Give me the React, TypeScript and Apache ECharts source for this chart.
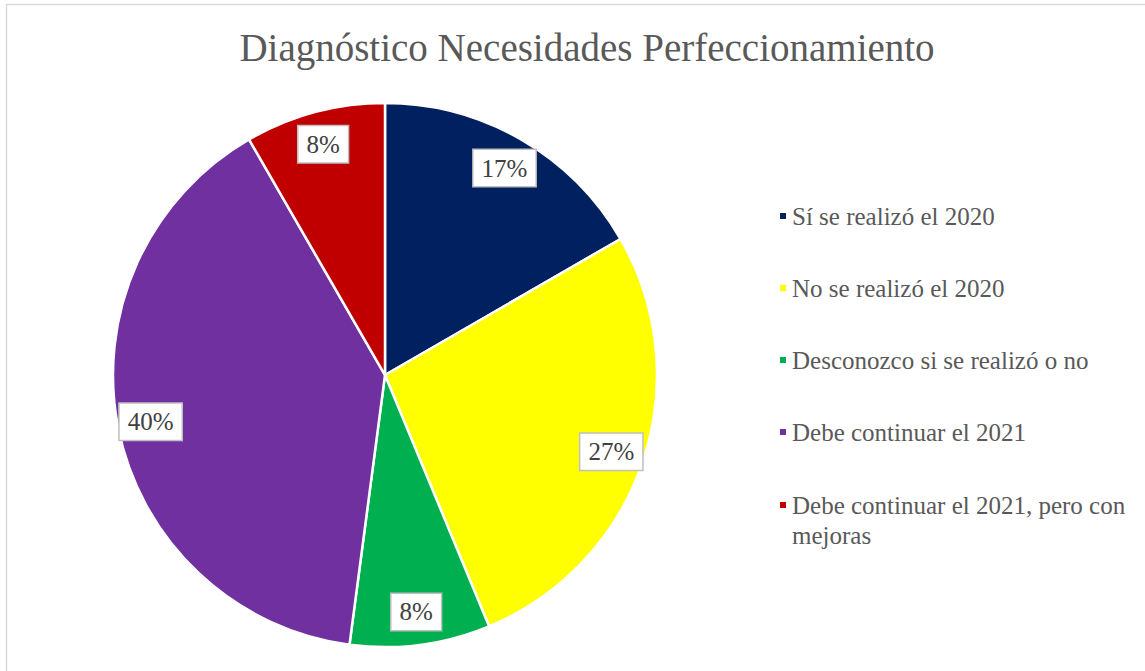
import React, { useEffect, useRef } from 'react';
import * as echarts from 'echarts';

const titleText = 'Diagnóstico Necesidades Perfeccionamiento';
const categories = [
  'Sí se realizó el 2020',
  'No se realizó el 2020',
  'Desconozco si se realizó o no',
  'Debe continuar el 2021',
  'Debe continuar el 2021, pero con mejoras',
];
const counts = [8, 13, 4, 19, 4];
const colors = ['#002060', '#FFFF00', '#00B050', '#7030A0', '#C00000'];

export default function App() {
  const ref = useRef<HTMLDivElement>(null);
  useEffect(() => {
    document.body.style.margin = '0';
    const chart = echarts.init(ref.current!, null, { renderer: 'svg' });
    const font = "'Liberation Serif', serif";
    const data = categories.map((name, i) => ({ name, value: counts[i], itemStyle: { color: colors[i] } }));
    const labelData = categories.map((name, i) => ({ name, value: counts[i], itemStyle: { color: 'rgba(0,0,0,0)' } }));
    const legendText = { fontFamily: font, fontSize: 25, lineHeight: 30, color: '#595959' };
    chart.setOption({
      animation: false,
      backgroundColor: '#ffffff',
      title: {
        text: titleText,
        left: 582,
        textAlign: 'center',
        top: 23,
        textStyle: { fontFamily: font, fontSize: 39, fontWeight: 'normal', color: '#595959' },
      },
      legend: [
        {
          data: categories.slice(0, 4),
          orient: 'vertical',
          left: 778,
          top: 201,
          padding: 0,
          itemWidth: 8,
          itemHeight: 8,
          itemGap: 42,
          icon: 'rect',
          selectedMode: false,
          textStyle: legendText,
        },
        {
          data: [categories[4]],
          orient: 'vertical',
          left: 778,
          top: 460,
          padding: 0,
          itemWidth: 8,
          itemHeight: 8,
          icon: 'rect',
          selectedMode: false,
          formatter: (name: string) => '\n' + name,
          textStyle: { ...legendText, width: 350, overflow: 'break' },
        },
      ],
      graphic: [
        {
          type: 'rect',
          shape: { x: 6.5, y: 4.5, width: 1200, height: 700 },
          style: { fill: 'none', stroke: '#d9d9d9', lineWidth: 1.5 },
          silent: true,
        },
      ],
      series: [
        {
          type: 'pie',
          center: [385, 375],
          radius: 272,
          startAngle: 90,
          clockwise: true,
          data,
          label: { show: false },
          labelLine: { show: false },
          itemStyle: { borderColor: '#ffffff', borderWidth: 2.5 },
          emphasis: { disabled: true },
        },
        {
          type: 'pie',
          center: [385, 375],
          radius: [200, 272],
          startAngle: 90,
          clockwise: true,
          silent: true,
          legendHoverLink: false,
          data: labelData,
          emphasis: { disabled: true },
          labelLine: { show: false },
          label: {
            show: true,
            position: 'inside',
            formatter: (p: any) => Math.round(p.percent) + '%',
            fontFamily: font,
            fontSize: 25,
            color: '#404040',
            backgroundColor: '#ffffff',
            borderColor: '#bfbfbf',
            borderWidth: 1.5,
            padding: [6, 8, 5, 8],
          },
        },
      ],
    });
    return () => chart.dispose();
  }, []);
  return <div ref={ref} style={{ width: 1145, height: 671 }} />;
}
